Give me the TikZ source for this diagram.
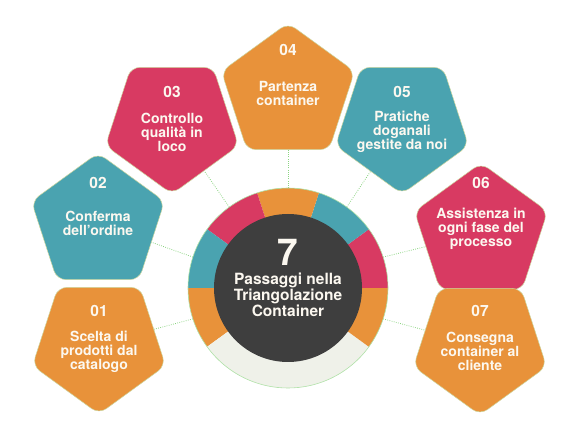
\documentclass[tikz,border=0pt]{standalone}
\usepackage{fontspec}
\setmainfont{TeX Gyre Heros}
\usetikzlibrary{shapes.geometric,backgrounds}
\definecolor{cor}{RGB}{232,146,58}
\definecolor{cpk}{RGB}{216,58,98}
\definecolor{ctl}{RGB}{74,163,176}
\definecolor{cdk}{RGB}{62,62,62}
\definecolor{cgr}{RGB}{239,241,233}
\definecolor{ctx}{RGB}{252,248,240}
\definecolor{cln}{RGB}{140,212,130}
\definecolor{cbd}{RGB}{205,215,160}
\newcommand\tightls{\lineskiplimit=-20pt\relax}
\begin{document}
\begin{tikzpicture}[x=1pt,y=1pt,
 penta/.style={regular polygon, regular polygon sides=5, minimum size=140pt, inner sep=0pt, outer sep=0pt, rounded corners=9pt, draw=cbd, line width=0.5pt},
 pup/.style={penta, fill=#1},
 pdown/.style={penta, fill=#1, shape border rotate=180},
 num/.style={text=ctx, font=\fontsize{15.5}{16}\selectfont\bfseries, inner sep=0pt},
 lbl/.style={text=ctx, font=\fontsize{14}{14}\selectfont\bfseries\tightls, align=center, inner sep=0pt},
 dotline/.style={draw=cln, line width=0.8pt, dash pattern=on 0.8pt off 1.4pt},
]
\useasboundingbox (0,0) rectangle (577,433);

% ring segments
\begin{scope}[shift={(288,145)}]
\foreach \a/\b/\c in {180/216/cor, 216/324/cgr, 324/360/cor, 0/36/cpk, 36/72/ctl, 72/108/cor, 108/144/cpk, 144/180/ctl}{
  \fill[\c] (\a:100) arc[start angle=\a, end angle=\b, radius=100] -- (\b:73) arc[start angle=\b, end angle=\a, radius=73] -- cycle;
}
\end{scope}
\node[circle, minimum size=200pt, inner sep=0pt, outer sep=0pt, draw=cln!70, line width=0.6pt] (hub) at (288,145) {};
\node[circle, minimum size=148pt, inner sep=0pt, fill=cdk] (core) at (288,145) {};
\node[text=ctx, font=\fontsize{37}{37}\selectfont\bfseries, inner sep=0pt] (seven) at (288,181) {7};
\node[text=ctx, font=\fontsize{15.5}{16}\selectfont\bfseries\tightls, align=center, inner sep=0pt] (title) at (288,138) {Passaggi nella\\Triangolazione\\Container};

% pentagons
\node[pdown=cor] (p1) at (99,89) {};
\node[pup=ctl]   (p2) at (98,210) {};
\node[pdown=cpk] (p3) at (172,309) {};
\node[pup=cor]   (p4) at (288,340) {};
\node[pdown=ctl] (p5) at (402,309) {};
\node[pup=cpk]   (p6) at (481,200) {};
\node[pdown=cor] (p7) at (480,88) {};

% numbers
\node[num] (n1) at (99,122) {01};
\node[num] (n2) at (98,250) {02};
\node[num] (n3) at (172,341) {03};
\node[num] (n4) at (288,383) {04};
\node[num] (n5) at (402,341) {05};
\node[num] (n6) at (481,250) {06};
\node[num] (n7) at (480,122) {07};

% labels
\node[lbl] (t1) at (99,81) {Scelta di\\prodotti dal\\catalogo};
\node[lbl] (t2) at (98,210) {Conferma\\dell’ordine};
\node[lbl] (t3) at (172,301) {Controllo\\qualità in\\loco};
\node[lbl] (t4) at (288,339.5) {Partenza\\container};
\node[lbl] (t5) at (402,301) {Pratiche\\doganali\\gestite da noi};
\node[lbl] (t6) at (481,204) {Assistenza in\\ogni fase del\\processo};
\node[lbl] (t7) at (480,81.5) {Consegna\\container al\\cliente};

% connectors
\begin{scope}[on background layer]
\draw[dotline] (hub.198) -- (p1);
\draw[dotline] (hub.162) -- (p2);
\draw[dotline] (hub.126) -- (p3);
\draw[dotline] (hub.90) -- (p4);
\draw[dotline] (hub.54) -- (p5);
\draw[dotline] (hub.18) -- (p6);
\draw[dotline] (hub.342) -- (p7);
\end{scope}
\end{tikzpicture}
\end{document}
